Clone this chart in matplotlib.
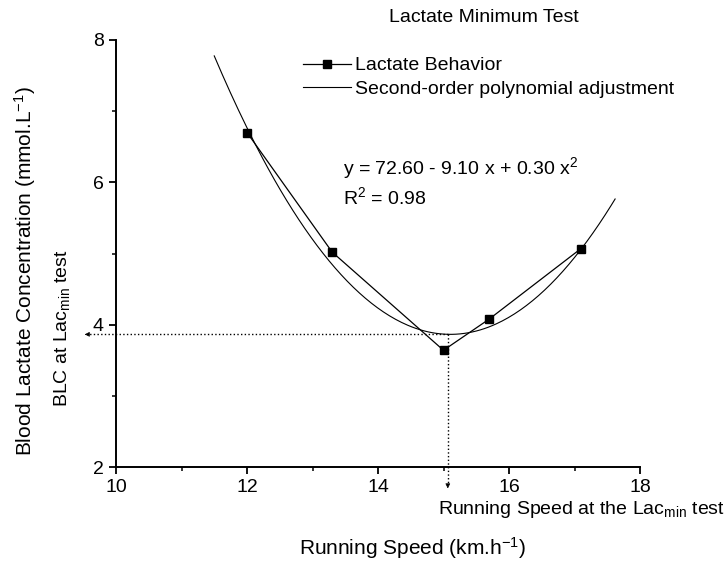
import numpy as np
import matplotlib
matplotlib.use("Agg")
import matplotlib.pyplot as plt

plt.rcParams["font.family"] = ["Liberation Sans", "DejaVu Sans"]
plt.rcParams["mathtext.fontset"] = "custom"
plt.rcParams["mathtext.rm"] = "Liberation Sans"
plt.rcParams["mathtext.it"] = "Liberation Sans"
plt.rcParams["mathtext.bf"] = "Liberation Sans"

# ── Data ───────────────────────────────────────────────────────────────────────
speed = [12.0, 13.3, 15.0, 15.7, 17.1]
lactate = [6.70, 5.02, 3.64, 4.08, 5.07]
curve_range = (11.5, 17.62)
x_ticks = [10, 12, 14, 16, 18]
y_ticks = [2, 4, 6, 8]

equation = "y = 72.60 - 9.10 x + 0.30 x$^{2}$"
r2_text = "R$^{2}$ = 0.98"

# ── Fit ────────────────────────────────────────────────────────────────────────
coef = np.polyfit(speed, lactate, 2)
xf = np.linspace(*curve_range, 200)
yf = np.polyval(coef, xf)
x_min = -coef[1] / (2 * coef[0])
y_min = np.polyval(coef, x_min)

# ── Figure ─────────────────────────────────────────────────────────────────────
W, H = 724, 561
fig = plt.figure(figsize=(W / 100, H / 100), dpi=100)
ax = fig.add_axes([116 / W, 1 - 467 / H, (640 - 116) / W, (467 - 40) / H])

def fx(px):
    return px / W

def fy(py):
    return 1 - py / H

FS = 14
FS_LAB = 15

ax.plot(speed, lactate, "-", color="black", lw=0.9, marker="s", ms=6,
        label="Lactate Behavior")
ax.plot(xf, yf, "-", color="black", lw=0.8,
        label="Second-order polynomial adjustment")

ax.set_xlim(10, 18)
ax.set_ylim(2, 8)
ax.set_xticks(x_ticks)
ax.set_yticks(y_ticks)
ax.set_xticks([11, 13, 15, 17], minor=True)
ax.set_yticks([3, 5, 7], minor=True)
ax.tick_params(which="major", direction="out", length=5, width=1.3, labelsize=FS, pad=4)
ax.tick_params(which="minor", direction="out", length=3, width=1.1)
for side in ["top", "right"]:
    ax.spines[side].set_visible(False)
for side in ["left", "bottom"]:
    ax.spines[side].set_linewidth(1.4)

# dotted guide lines with arrows
x_tip = 9.48
y_tip = 1.66
x_guide = x_min - 0.04
ax.plot([x_guide, x_tip + 0.08], [y_min, y_min], ":", color="black", lw=1.0, clip_on=False)
ax.plot([x_guide, x_guide], [y_min, y_tip + 0.1], ":", color="black", lw=1.0, clip_on=False)
ax.annotate("", xy=(x_tip, y_min), xytext=(x_tip + 0.1, y_min),
            arrowprops=dict(arrowstyle="-|>", color="black", lw=0.5, mutation_scale=7),
            annotation_clip=False)
ax.annotate("", xy=(x_guide, y_tip), xytext=(x_guide, y_tip + 0.1),
            arrowprops=dict(arrowstyle="-|>", color="black", lw=0.5, mutation_scale=7),
            annotation_clip=False)

leg = ax.legend(loc="upper left", bbox_to_anchor=(fx(293), fy(47)),
                bbox_transform=fig.transFigure, frameon=False, fontsize=FS,
                handlelength=2.5, handletextpad=0.2, labelspacing=0.32, borderpad=0)

# texts
fig.text(fx(484), fy(17), "Lactate Minimum Test", fontsize=FS, ha="center", va="center")
fig.text(fx(343), fy(168), equation, fontsize=FS, ha="left", va="center")
fig.text(fx(343), fy(197), r2_text, fontsize=FS, ha="left", va="center")
fig.text(fx(25), fy(271), "Blood Lactate Concentration (mmol.L$^{-1}$)", fontsize=FS_LAB,
         rotation=90, ha="center", va="center")
fig.text(fx(62), fy(407), "BLC at Lac$_{min}$ test", fontsize=FS,
         rotation=90, ha="center", va="bottom")
fig.text(fx(412), fy(548), "Running Speed (km.h$^{-1}$)", fontsize=FS_LAB,
         ha="center", va="center")
fig.text(fx(438), fy(510), "Running Speed at the Lac$_{min}$ test", fontsize=FS,
         ha="left", va="center")

fig.savefig("out.png", dpi=100)
